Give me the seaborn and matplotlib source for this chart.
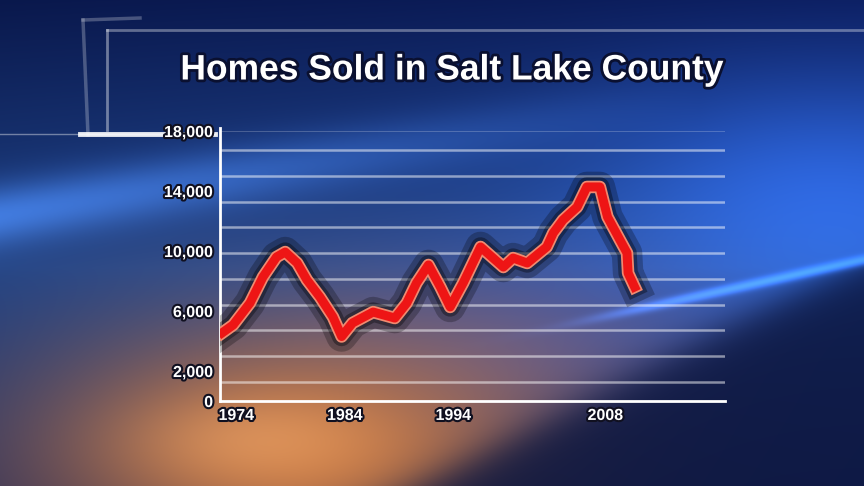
import numpy as np
import pandas as pd
import matplotlib
matplotlib.use("Agg")
import matplotlib.pyplot as plt
import matplotlib.patheffects as pe
import seaborn as sns

# ---- data ----
years = [1972.7, 1973.7, 1975.25, 1976.45, 1977.7, 1978.5, 1979.6, 1980.5, 1981.7,
         1982.9, 1983.7, 1984.7, 1986.6, 1988.6, 1989.7, 1990.6, 1991.7, 1992.8,
         1993.7, 1994.9, 1996.5, 1998.6, 1999.5, 2000.8, 2002.6, 2003.2, 2004.1,
         2005.4, 2006.3, 2007.5, 2008.2, 2009.35, 2010.0, 2010.1, 2010.7]
homes_sold = [4550, 5070, 6530, 8270, 9600, 9930, 9200, 8070, 6930,
              5600, 4300, 5200, 5930, 5530, 6530, 7870, 9070, 7600,
              6270, 7870, 10270, 8930, 9530, 9200, 10270, 11200, 12070,
              12930, 14270, 14270, 12270, 10730, 9870, 8530, 7600]
y_ticks = [0, 2000, 6000, 10000, 14000, 18000]
y_tick_labels = ["0", "2,000", "6,000", "10,000", "14,000", "18,000"]
x_ticks = [1974, 1984, 1994, 2008]
x_tick_labels = ["1974", "1984", "1994", "2008"]
grid_levels = [1270, 3000, 4730, 6400, 8130, 9870, 11600, 13270, 15000, 16730]
title = "Homes Sold in Salt Lake County"

plt.rcParams["font.family"] = ["Liberation Sans", "DejaVu Sans"]

W, H = 864, 486
fig = plt.figure(figsize=(W / 100, H / 100), dpi=100)


def sig(v):
    return 1 / (1 + np.exp(-v))


# ---- background (decorative gradient) ----
yy, xx = np.mgrid[0:H, 0:W].astype(float)
t = yy / H
top = np.array([12, 30, 95]) / 255
mid = np.array([40, 85, 170]) / 255
bot = np.array([40, 50, 110]) / 255
w1 = np.clip(1 - np.abs(t - 0.55) / 0.55, 0, 1)[..., None]
img = np.where((t < 0.55)[..., None], top * (1 - w1) + mid * w1, bot * (1 - w1) + mid * w1)
img = img * (0.8 + 0.2 * (xx / W))[..., None]
# purple tint middle-bottom
gp = np.exp(-(((xx - 520) / 220) ** 2 + ((yy - 350) / 90) ** 2))[..., None]
img = img * (1 - 0.45 * gp) + np.array([120, 100, 155]) / 255 * 0.45 * gp
# orange glow bottom-left
g = np.exp(-(((xx - 300) / 270) ** 2 + ((yy - 450) / 130) ** 2))[..., None]
img = img * (1 - 0.9 * g) + np.array([215, 125, 60]) / 255 * 0.9 * g
# brighter hot spot near axis
g3 = np.exp(-(((xx - 260) / 120) ** 2 + ((yy - 440) / 45) ** 2))[..., None]
img = img * (1 - 0.5 * g3) + np.array([240, 170, 110]) / 255 * 0.5 * g3
# blue diagonal streak upper
d = ((yy - 215) + xx * (100 / 600))
s = np.exp(-(d / 30) ** 2)[..., None] * np.clip(1 - xx / 700, 0, 1)[..., None]
img = img + np.array([80, 140, 220]) / 255 * 0.45 * s
# lighter blue right region
g2 = np.exp(-(((xx - 820) / 230) ** 2 + ((yy - 190) / 120) ** 2))[..., None]
img = img + np.array([25, 60, 130]) / 255 * 0.6 * g2
# dark lower-right region bounded by two diagonals
y1 = 330 - (xx - 540) * (70 / 324)
x2 = 420 + (486 - yy) * (300 / 156)
m = (sig((yy - y1) / 3) * sig((xx - x2) / 25))[..., None]
navy = np.array([10, 20, 60]) / 255
img = img * (1 - 0.85 * m) + navy * 0.85 * m
edge = (np.exp(-((yy - y1) / 5) ** 2) * sig((xx - 620) / 30))[..., None]
img = img + np.array([60, 130, 255]) / 255 * 0.55 * edge
img = np.clip(img, 0, 1)

bg = fig.add_axes([0, 0, 1, 1])
bg.imshow(img, extent=[0, W, H, 0], aspect="auto")
bg.set_xlim(0, W)
bg.set_ylim(H, 0)
bg.axis("off")
# decorative frame lines
bg.plot([0, 215], [134, 134], color="white", lw=1, alpha=0.4)
bg.plot([80, 215], [134, 134], color="white", lw=3.5, alpha=0.9)
bg.plot([107, 107], [30, 130], color="white", lw=2, alpha=0.4)
bg.plot([107, 864], [30, 30], color="white", lw=2, alpha=0.35)
bg.plot([83, 88], [20, 135], color="white", lw=2.5, alpha=0.25)
bg.plot([83, 140], [20, 18], color="white", lw=2.5, alpha=0.25)

# ---- chart axes ----
ax = fig.add_axes([220 / W, 1 - 401 / H, (725 - 220) / W, (401 - 131) / H])
ax.patch.set_alpha(0)
ax.set_xlim(1972.49, 2019.03)
ax.set_ylim(0, 18000)
for sp in ["top", "right"]:
    ax.spines[sp].set_visible(False)
for sp in ["left", "bottom"]:
    ax.spines[sp].set_color("white")
    ax.spines[sp].set_linewidth(2)
ax.spines["left"].set_bounds(0, 18200)

for gl in grid_levels:
    ax.axhline(gl, color="white", lw=1.8, alpha=0.5, zorder=1)
ax.axhline(18000, color="white", lw=1.2, alpha=0.25, zorder=1)

df = pd.DataFrame({"year": years, "homes": homes_sold})
sns.lineplot(data=df, x="year", y="homes", ax=ax, sort=False, color="#ee1515",
             lw=6.5, zorder=3,
             path_effects=[pe.Stroke(linewidth=22, foreground="black", alpha=0.25),
                           pe.Stroke(linewidth=14, foreground="black", alpha=0.35),
                           pe.Stroke(linewidth=9, foreground="#f08a70"),
                           pe.Normal()])

outline = [pe.withStroke(linewidth=3, foreground="#101020")]
ax.set_yticks(y_ticks)
ax.set_yticklabels(y_tick_labels)
ax.set_xticks(x_ticks)
ax.set_xticklabels(x_tick_labels)
ax.tick_params(length=0, colors="white", labelsize=11.5, pad=5)
for lab in ax.get_yticklabels() + ax.get_xticklabels():
    lab.set_fontweight("bold")
    lab.set_path_effects(outline)
ax.set_xlabel("")
ax.set_ylabel("")

fig.text(452 / W, 1 - 70 / H, title, ha="center", va="center", color="white",
         fontsize=25.5, fontweight="bold",
         path_effects=[pe.withStroke(linewidth=4, foreground="#0a1030")])

fig.savefig("out.png", dpi=100)
